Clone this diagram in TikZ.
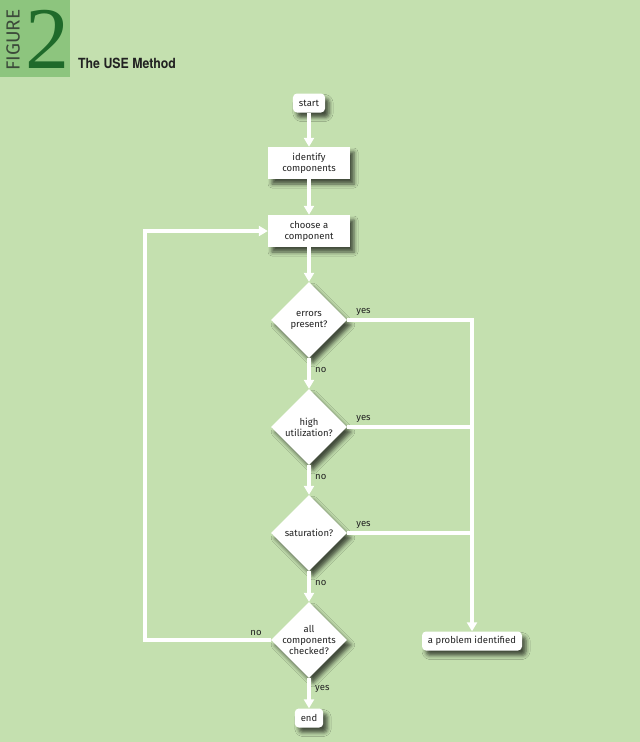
\documentclass[tikz,border=0pt]{standalone}
\usepackage{fontspec}
\setmainfont{Fira Sans}
\newfontfamily\bignum{Liberation Serif}
\newfontfamily\headfont{TeX Gyre Heros}
\usetikzlibrary{shapes.geometric,arrows.meta,shadows.blur}
\definecolor{paper}{HTML}{C4E0AF}
\definecolor{tabgreen}{HTML}{8DC57E}
\definecolor{numgreen}{HTML}{1F6A2A}
\definecolor{ink}{HTML}{222222}
\definecolor{tabink}{HTML}{3C4A3A}
\begin{document}
\begin{tikzpicture}[x=1pt,y=-1pt,
    every node/.style={font=\fontsize{9.5}{11}\selectfont,text=ink},
    shade/.style={blur shadow={shadow xshift=4pt,shadow yshift=-5pt,shadow blur radius=4pt,shadow opacity=65}},
    box/.style={fill=white,minimum width=82pt,minimum height=32pt,inner sep=1pt,align=center,shade},
    term/.style={fill=white,rounded corners=4pt,minimum height=19pt,inner xsep=6pt,inner ysep=1pt,shade},
    test/.style={diamond,aspect=1,fill=white,minimum width=76pt,minimum height=76pt,inner sep=0pt,align=center,shade},
    link/.style={white,line width=3.2pt,-{Triangle[length=9pt,width=10pt]}},
    answer/.style={inner sep=1pt}]
    %% page
    \fill[paper] (0,0) rectangle (640,742);
    \useasboundingbox (0,0) rectangle (640,742);
    %% figure tab
    \fill[tabgreen] (0,0) rectangle (70,77);
    \node[rotate=90,anchor=south,inner sep=0pt,text=tabink,font=\fontsize{19}{19}\selectfont] (figword) at (20,40) {FIGURE};
    \node[anchor=base west,inner sep=0pt,text=numgreen,font=\bignum\fontsize{88}{88}\selectfont] (fignum) at (25,68) {2};
    \node[anchor=base west,inner sep=0pt,xscale=0.88,font=\headfont\bfseries\fontsize{14}{15}\selectfont] (title) at (78,68) {The USE Method};
    %% steps
    \node[term] (start) at (309,103) {start};
    \node[box] (ident) at (309,163) {identify\\components};
    \node[box] (choose) at (309,231) {choose a\\component};
    \node[test] (err) at (309,320) {errors\\present?};
    \node[test] (util) at (309,427) {high\\utilization?};
    \node[test] (sat) at (309,533) {saturation?};
    \node[test] (chk) at (309,640) {};
    \node[align=center,inner sep=0pt] (chktext) at (chk) {all\\components\\checked?};
    \node[term] (end) at (309,718) {end};
    \node[term] (prob) at (472,641) {a problem identified};
    \coordinate (back) at (145,640);
    %% flow
    \draw[link] (start) -- (ident);
    \draw[link] (ident) -- (choose);
    \draw[link] (choose) -- (err);
    \draw[link] (err) -- (util);
    \draw[link] (util) -- (sat);
    \draw[link] (sat) -- (chk);
    \draw[link] (chk) -- (end);
    \draw[link] (err.east) -| (prob.north);
    \foreach \t in {util,sat}
        \draw[link,-] (\t.east) -- (\t.east -| prob.north);
    \draw[link] (chk.west) -- (back) |- (choose.west);
    %% answers
    \foreach \t in {err,util,sat}{
        \node[answer,anchor=south west] (\t yes) at ([xshift=8pt,yshift=3pt]\t.east) {yes};
        \node[answer,anchor=west] (\t no) at ([xshift=5pt,yshift=-12pt]\t.south) {no};
    }
    \node[answer,anchor=south east] (chkno) at ([xshift=-8pt,yshift=3pt]chk.west) {no};
    \node[answer,anchor=west] (chkyes) at ([xshift=5pt,yshift=-11pt]chk.south) {yes};
\end{tikzpicture}
\end{document}
